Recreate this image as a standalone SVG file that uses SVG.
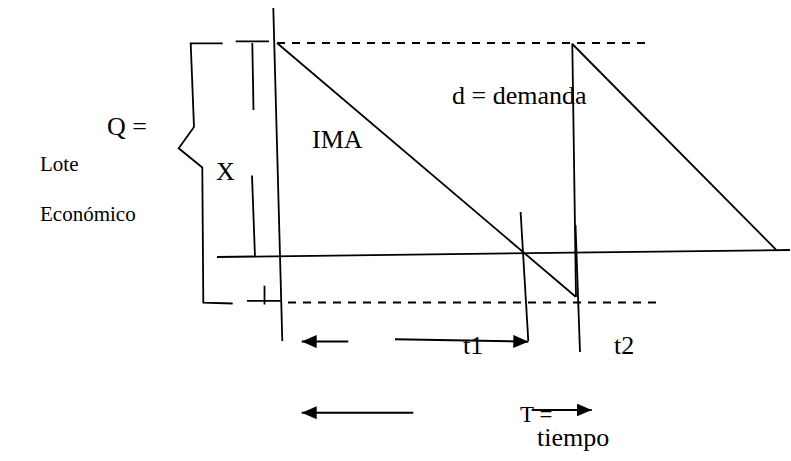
<svg xmlns="http://www.w3.org/2000/svg" width="791" height="461" viewBox="0 0 791 461">
  <style>
    .ln { stroke: #000; stroke-width: 1.8; fill: none; stroke-linecap: butt; }
    .dash { stroke: #000; stroke-width: 1.8; fill: none; stroke-dasharray: 8 7; }
    .arr { stroke: #000; stroke-width: 2; fill: none; marker-end: url(#head); }
    .t { font-family: 'Liberation Serif', 'Times New Roman', 'DejaVu Serif', serif; font-size: 26px; fill: #000; }
    .s { font-size: 21px; }
  </style>
  <defs>
    <marker id="head" markerUnits="userSpaceOnUse" markerWidth="16" markerHeight="14" refX="15" refY="6.5" orient="auto">
      <path d="M0,0 L15,6.5 L0,13 Z" fill="#000"/>
    </marker>
  </defs>
  <rect width="791" height="461" fill="#fff"/>

  <g id="bracket">
    <polyline class="ln" points="222.7,43.3 190.7,43.3 194,127 178.7,148.3 202.3,167.5 203.3,302.7 232.7,303.5"/>
    <line class="ln" x1="235.7" y1="41.3" x2="269" y2="41.3"/>
    <line class="ln" x1="247" y1="300.8" x2="281" y2="300.8"/>
    <line class="ln" x1="264.5" y1="285.7" x2="264.5" y2="304.5"/>
  </g>

  <g id="x-marker">
    <line class="ln" x1="252.3" y1="43" x2="253.5" y2="110"/>
    <line class="ln" x1="252" y1="175.5" x2="255" y2="257"/>
  </g>

  <g id="axes">
    <line class="ln" x1="273.3" y1="8" x2="282.3" y2="341"/>
    <line class="ln" x1="217" y1="257" x2="790" y2="250"/>
    <line class="dash" x1="277" y1="43" x2="645" y2="43"/>
    <line class="dash" x1="288" y1="302.5" x2="656" y2="302.5"/>
    <line class="ln" x1="520.6" y1="212" x2="528.3" y2="341"/>
    <line class="ln" x1="575.5" y1="225" x2="580" y2="352"/>
  </g>

  <g id="sawtooth">
    <line class="ln" x1="277" y1="43" x2="575.7" y2="296.7"/>
    <line class="ln" x1="572.3" y1="43.5" x2="576" y2="297"/>
    <line class="ln" x1="572.3" y1="44" x2="776" y2="249.6"/>
  </g>

  <g id="connectors">
    <line class="arr" x1="348.3" y1="341.6" x2="301.7" y2="341.6"/>
    <line class="arr" x1="395" y1="339.3" x2="528.3" y2="341.7"/>
    <line class="arr" x1="413.3" y1="412.7" x2="301.7" y2="412.7"/>
    <line class="arr" x1="531.7" y1="410" x2="591.7" y2="410"/>
  </g>

  <g id="labels" font-family="Liberation Serif, serif">
    <text class="t" x="107" y="134.5">Q =</text>
    <text class="t s" x="40" y="171">Lote</text>
    <text class="t s" x="40" y="221">Económico</text>
    <text class="t" x="216" y="179.5">X</text>
    <text class="t" x="312" y="147.5">IMA</text>
    <text class="t" x="452" y="104">d = demanda</text>
    <text class="t" x="463" y="354">t1</text>
    <text class="t" x="614" y="354">t2</text>
    <text class="t" x="520" y="422" style="font-size:23px">T =</text>
    <text class="t" x="537" y="446">tiempo</text>
  </g>
</svg>
